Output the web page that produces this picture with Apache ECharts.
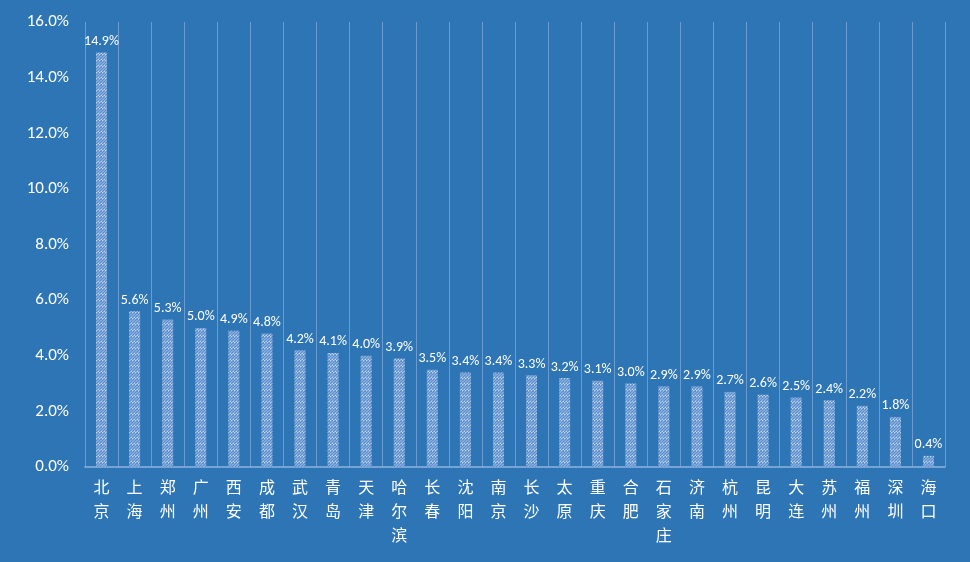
<!DOCTYPE html><html><head><meta charset="utf-8">
<script src="https://cdn.jsdelivr.net/npm/echarts@6/dist/echarts.min.js"></script>
<style>html,body{margin:0;background:#2e75b6}</style></head><body>
<div id="c" style="width:970px;height:562px"></div>
<script>
const categories=['北京','上海','郑州','广州','西安','成都','武汉','青岛','天津','哈尔滨','长春','沈阳','南京','长沙','太原','重庆','合肥','石家庄','济南','杭州','昆明','大连','苏州','福州','深圳','海口'];
const values=[14.9,5.6,5.3,5.0,4.9,4.8,4.2,4.1,4.0,3.9,3.5,3.4,3.4,3.3,3.2,3.1,3.0,2.9,2.9,2.7,2.6,2.5,2.4,2.2,1.8,0.4];
const cv=document.createElement('canvas');cv.width=6;cv.height=6;
const g=cv.getContext('2d');g.fillStyle='#ffffff';g.fillRect(0,0,6,6);
g.strokeStyle='#5b8fcf';g.lineWidth=1.8;
for(let k=-6;k<=12;k+=3){g.beginPath();g.moveTo(k,6);g.lineTo(k+6,0);g.stroke();}
const chart=echarts.init(document.getElementById('c'));
chart.setOption({
 backgroundColor:'#2e75b6',
 grid:{left:85,right:25,top:22,bottom:95},
 xAxis:{type:'category',data:categories,
  axisLine:{lineStyle:{color:'#8fb4e0',width:1.5}},axisTick:{show:false},
  splitLine:{show:true,lineStyle:{color:'#6c9bd2',width:1}},
  axisLabel:{interval:0,color:'#fff',fontSize:16,lineHeight:24,fontFamily:'Noto Sans CJK SC',margin:8,
   formatter:v=>v.split('').join('\n')}},
 yAxis:{type:'value',min:0,max:16,interval:2,
  axisLabel:{color:'#fff',fontSize:17,fontFamily:'Carlito, Liberation Sans, sans-serif',formatter:v=>v.toFixed(1)+'%',margin:16},
  splitLine:{show:false},axisLine:{show:false},axisTick:{show:false}},
 series:[{type:'bar',data:values,barWidth:11,
  itemStyle:{color:{image:cv,repeat:'repeat'}},
  label:{show:true,position:'top',color:'#fff',fontSize:14,distance:4,fontFamily:'Carlito, Liberation Sans, sans-serif',formatter:p=>p.value.toFixed(1)+'%'}}]
});
</script></body></html>
